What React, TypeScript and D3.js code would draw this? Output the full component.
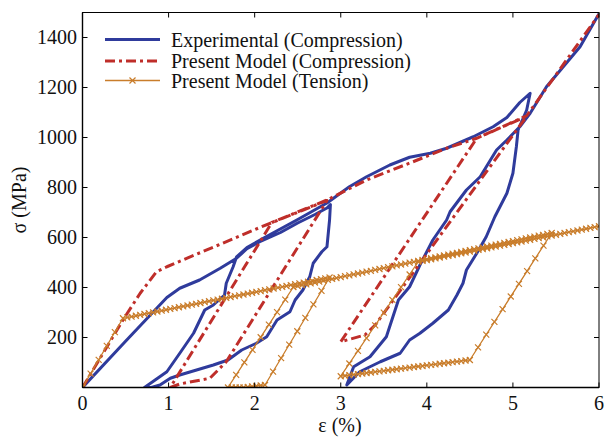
import React from "react";
import * as d3 from "d3";

// ---- data (strain %, stress MPa) ----
const experimental: [number, number][] = [
  [0, 0], [0.5, 185], [0.98, 360], [1.13, 397], [1.36, 430], [1.6, 477], [1.79, 517], [1.91, 555],
  [2.06, 583], [2.3, 620], [2.5, 658], [2.7, 692], [2.84, 718], [2.88, 732], [2.87, 670], [2.84, 563],
  [2.78, 543], [2.68, 497], [2.64, 443], [2.56, 390], [2.47, 350], [2.41, 303], [2.26, 270], [2.14, 203],
  [2.02, 177], [1.85, 150], [1.69, 110], [1.52, 90], [1.13, 50], [1.02, 37], [0.9, 10], [0.8, 0],
  [0.72, 0], [0.98, 63], [1.13, 137], [1.29, 217], [1.42, 310], [1.52, 330], [1.65, 370], [1.67, 417],
  [1.75, 483], [1.79, 523], [1.91, 560], [2.1, 597], [2.5, 672], [2.84, 738], [3.1, 803], [3.3, 843],
  [3.57, 890], [3.8, 921], [4.04, 937], [4.23, 957], [4.54, 1003], [4.77, 1043], [4.93, 1080], [5.08, 1140],
  [5.2, 1177], [5.16, 1110], [5.06, 1030], [5.04, 963], [5.0, 857], [4.93, 777], [4.79, 683], [4.69, 603],
  [4.58, 537], [4.46, 470], [4.42, 417], [4.35, 370], [4.25, 310], [4.07, 257], [3.92, 217], [3.8, 190],
  [3.69, 137], [3.46, 103], [3.22, 63], [3.07, 10], [3.15, 83], [3.34, 123], [3.53, 203], [3.67, 350],
  [3.8, 403], [3.92, 490], [4.07, 590], [4.23, 670], [4.27, 703], [4.46, 790], [4.62, 843], [4.81, 950],
  [4.93, 990], [5.08, 1043], [5.2, 1097], [5.39, 1203], [5.78, 1363], [6.0, 1495],
];

const modelCompression: [number, number][] = [
  [0, 0], [0.47, 270], [0.67, 377], [0.86, 463], [0.98, 483], [2.06, 640], [2.84, 748],
  [1.67, 103], [1.48, 37], [1.13, 14], [1.02, 0], [2.2, 660], [2.84, 750], [3.3, 830], [3.84, 903],
  [4.23, 957], [4.58, 997], [5.16, 1085], [3.4, 250], [3.28, 210], [3.0, 183], [4.58, 997],
  [5.16, 1087], [6.0, 1492],
];

const modelTension: [number, number][] = [
  [0, 0], [0.47, 277], [2.87, 440], [2.12, 10], [1.87, 0], [1.69, 0], [2.45, 402], [5.45, 618],
  [4.5, 110], [3.0, 45], [3.9, 503], [6.0, 645],
];

const xTicks = [0, 1, 2, 3, 4, 5, 6];
const yTicks = [200, 400, 600, 800, 1000, 1200, 1400];
const legendLabels = [
  "Experimental (Compression)",
  "Present Model (Compression)",
  "Present Model (Tension)",
];

const BLUE = "#2f3b9c";
const RED = "#bf2e2a";
const ORANGE = "#c97d2b";
const FONT = "'Liberation Serif', 'DejaVu Serif', serif";

export default function App() {
  const W = 605, H = 440;
  const x = d3.scaleLinear().domain([0, 6]).range([82.5, 599]);
  const y = d3.scaleLinear().domain([0, 1500]).range([387.5, 12.5]);
  const line = d3.line<[number, number]>().x((d) => x(d[0])).y((d) => y(d[1]));

  // marker positions along the tension path (styling, like a dash pattern)
  const markers: [number, number][] = [];
  for (let i = 0; i < modelTension.length - 1; i++) {
    const [e0, s0] = modelTension[i];
    const [e1, s1] = modelTension[i + 1];
    const de = Math.abs(e1 - e0);
    if (de < 1e-9) continue;
    const steep = Math.abs((s1 - s0) / (e1 - e0)) > 300;
    const step = steep ? 0.1 : 0.05;
    const n = Math.max(1, Math.round(de / step));
    for (let k = 0; k < n; k++) {
      const t = k / n;
      markers.push([x(e0 + (e1 - e0) * t), y(s0 + (s1 - s0) * t)]);
    }
  }
  const last = modelTension[modelTension.length - 1];
  markers.push([x(last[0]), y(last[1])]);

  const m = 3;
  const cross = (cx: number, cy: number, key: string) => (
    <path key={key} d={`M${cx - m},${cy - m}L${cx + m},${cy + m}M${cx - m},${cy + m}L${cx + m},${cy - m}`}
      stroke={ORANGE} strokeWidth={1.2} fill="none" />
  );

  const x0 = x.range()[0], x1 = x.range()[1];
  const y0 = y.range()[0], y1 = y.range()[1];
  const tl = 5;

  const legendY = [39.5, 61, 80.5];
  const legendBase = [46.5, 67.5, 87.5];

  return (
    <svg width={W} height={H} style={{ position: "absolute", left: 0, top: 0, background: "#fff" }}
      fontFamily={FONT}>
      <rect x={0} y={0} width={W} height={H} fill="#fff" />
      <defs>
        <clipPath id="plot">
          <rect x={x0} y={y1} width={x1 - x0} height={y0 - y1} />
        </clipPath>
      </defs>
      <g clipPath="url(#plot)">
        <path d={line(experimental) || ""} fill="none" stroke={BLUE} strokeWidth={3} strokeLinejoin="round" />
        <path d={line(modelCompression) || ""} fill="none" stroke={RED} strokeWidth={3}
          strokeDasharray="10,4,3,4" strokeLinejoin="round" />
        <path d={line(modelTension) || ""} fill="none" stroke={ORANGE} strokeWidth={1.3} />
        {markers.map((p, i) => cross(p[0], p[1], "m" + i))}
      </g>
      {/* frame */}
      <rect x={x0} y={y1} width={x1 - x0} height={y0 - y1} fill="none" stroke="#000" strokeWidth={1} />
      <line x1={x0} x2={x1} y1={y0} y2={y0} stroke="#000" strokeWidth={1.6} />
      <line x1={x0} x2={x0} y1={y1} y2={y0} stroke="#000" strokeWidth={1.4} />
      {/* x ticks */}
      {xTicks.map((t) => (
        <g key={"x" + t}>
          <line x1={x(t)} x2={x(t)} y1={y0} y2={y0 - tl} stroke="#000" />
          <line x1={x(t)} x2={x(t)} y1={y1} y2={y1 + tl} stroke="#000" />
          <text x={x(t)} y={410} fontSize={20} textAnchor="middle" fill="#111">{t}</text>
        </g>
      ))}
      {/* y ticks */}
      {yTicks.map((t) => (
        <g key={"y" + t}>
          <line x1={x0} x2={x0 + tl} y1={y(t)} y2={y(t)} stroke="#000" />
          <line x1={x1} x2={x1 - tl} y1={y(t)} y2={y(t)} stroke="#000" />
          <text x={77} y={y(t) + 6.5} fontSize={20} textAnchor="end" fill="#111">{t}</text>
        </g>
      ))}
      {/* axis labels */}
      <text x={340} y={432} fontSize={20} textAnchor="middle" fill="#111">ε (%)</text>
      <text transform="translate(26,200) rotate(-90)" fontSize={20} textAnchor="middle" fill="#111">σ (MPa)</text>
      {/* legend */}
      <line x1={105} x2={160} y1={legendY[0]} y2={legendY[0]} stroke={BLUE} strokeWidth={3} />
      <line x1={105} x2={160} y1={legendY[1]} y2={legendY[1]} stroke={RED} strokeWidth={3} strokeDasharray="10,4,3,4" />
      <line x1={105} x2={160} y1={legendY[2]} y2={legendY[2]} stroke={ORANGE} strokeWidth={1.3} />
      {cross(132.5, legendY[2], "leg")}
      {legendLabels.map((l, i) => (
        <text key={l} x={171} y={legendBase[i]} fontSize={20} fill="#111">{l}</text>
      ))}
    </svg>
  );
}
